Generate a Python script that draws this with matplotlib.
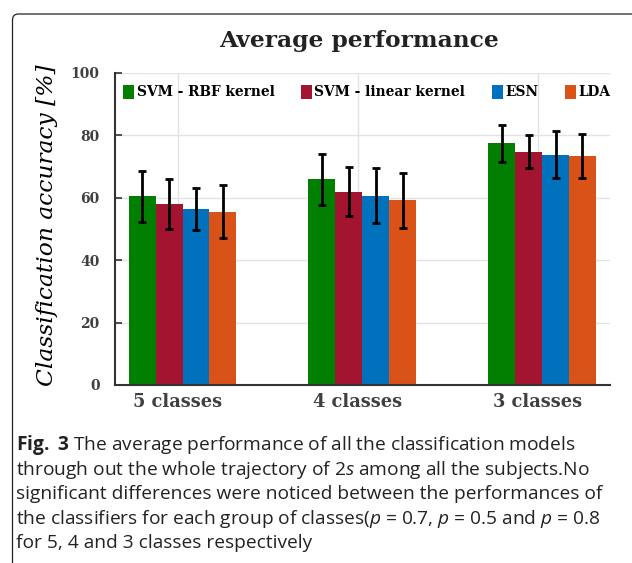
import numpy as np
import matplotlib
matplotlib.use('Agg')
import matplotlib.pyplot as plt
from matplotlib.patches import FancyBboxPatch
from matplotlib.transforms import IdentityTransform

# data
groups = ['5 classes', '4 classes', '3 classes']
models = ['SVM - RBF kernel', 'SVM - linear kernel', 'ESN', 'LDA']
svm_rbf = [60.5, 65.9, 77.5]
svm_lin = [58.0, 62.0, 74.8]
esn = [56.4, 60.7, 73.8]
lda = [55.6, 59.2, 73.4]
svm_rbf_err = [8.2, 8.2, 5.9]
svm_lin_err = [8.0, 7.8, 5.4]
esn_err = [6.7, 8.9, 7.6]
lda_err = [8.4, 8.8, 7.2]
yticks = [0, 20, 40, 60, 80, 100]

colors = ['#007f00', '#a2142f', '#0072bd', '#d95319']
means = [svm_rbf, svm_lin, esn, lda]
errs = [svm_rbf_err, svm_lin_err, esn_err, lda_err]

caption = [
    r'$\mathbf{Fig.\ 3}$ The average performance of all the classification models',
    r'through out the whole trajectory of 2$s$ among all the subjects.No',
    'significant differences were noticed between the performances of',
    r'the classifiers for each group of classes($p$ = 0.7, $p$ = 0.5 and $p$ = 0.8',
    'for 5, 4 and 3 classes respectively',
]

plt.rcParams['mathtext.fontset'] = 'custom'
plt.rcParams['mathtext.rm'] = 'Open Sans'
plt.rcParams['mathtext.it'] = 'Open Sans:italic'
plt.rcParams['mathtext.bf'] = 'Open Sans:bold'

W, H = 632, 563
fig = plt.figure(figsize=(W / 100, H / 100), dpi=100)
ax = fig.add_axes([115 / W, 1 - 385 / H, 495 / W, 312 / H])

x = np.arange(1, len(groups) + 1)
width = 0.15
shift = 0.025
for k in range(4):
    pos = x + shift + (k - 1.5) * width
    ax.bar(pos, means[k], width, color=colors[k], label=models[k], zorder=2)
    ax.errorbar(pos, means[k], yerr=errs[k], fmt='none', ecolor='black',
                elinewidth=2.0, capsize=2.8, capthick=2.0, zorder=3)

ax.set_xlim(0.6495, 3.403)
ax.set_ylim(0, 100)
ax.set_xticks(x)
ax.set_xticklabels(groups, fontfamily='DejaVu Serif', fontweight='bold',
                   fontsize=12.8, color='#404040')
ax.set_yticks(yticks)
ax.set_yticklabels([str(v) for v in yticks], fontfamily='DejaVu Serif',
                   fontweight='bold', fontsize=10, color='#404040')
ax.tick_params(axis='x', length=0, pad=6)
ax.tick_params(axis='y', direction='in', length=5, width=1.2, color='#333333', pad=11)
ax.grid(True, color='#e3e3e3', linewidth=1.0, zorder=0)
ax.set_axisbelow(True)
for s in ['top', 'right']:
    ax.spines[s].set_visible(False)
for s in ['left', 'bottom']:
    ax.spines[s].set_color('#333333')
    ax.spines[s].set_linewidth(1.5)

ax.legend(loc='upper left', bbox_to_anchor=(8 / 495, 1 - 12 / 312), ncol=4,
          frameon=False, prop={'family': 'DejaVu Serif', 'weight': 'bold', 'size': 9.9},
          handlelength=0.8, handleheight=1.15, handletextpad=0.2,
          columnspacing=1.9, borderaxespad=0, borderpad=0)

fig.text(359 / W, 1 - 41 / H, 'Average performance', ha='center', va='center',
         fontfamily='DejaVu Serif', fontweight='bold', fontsize=16.8, color='#222222')
fig.text(47 / W, 1 - 225 / H, 'Classification accuracy [%]', rotation=90,
         ha='center', va='center', fontfamily='DejaVu Serif', fontstyle='italic',
         fontsize=16.8, color='black')

for i, line in enumerate(caption):
    fig.text(16 / W, 1 - (450 + 24.6 * i) / H, line, ha='left', va='baseline',
             fontfamily='Open Sans', fontsize=13.8, color='#222222')

frame = FancyBboxPatch((12.5, -60), 700, 563 - 14 + 60, boxstyle='round,pad=0,rounding_size=6',
                       transform=IdentityTransform(), fill=False, edgecolor='#222222',
                       linewidth=0.9, clip_on=False)
fig.add_artist(frame)

fig.savefig('out.png', dpi=100)
